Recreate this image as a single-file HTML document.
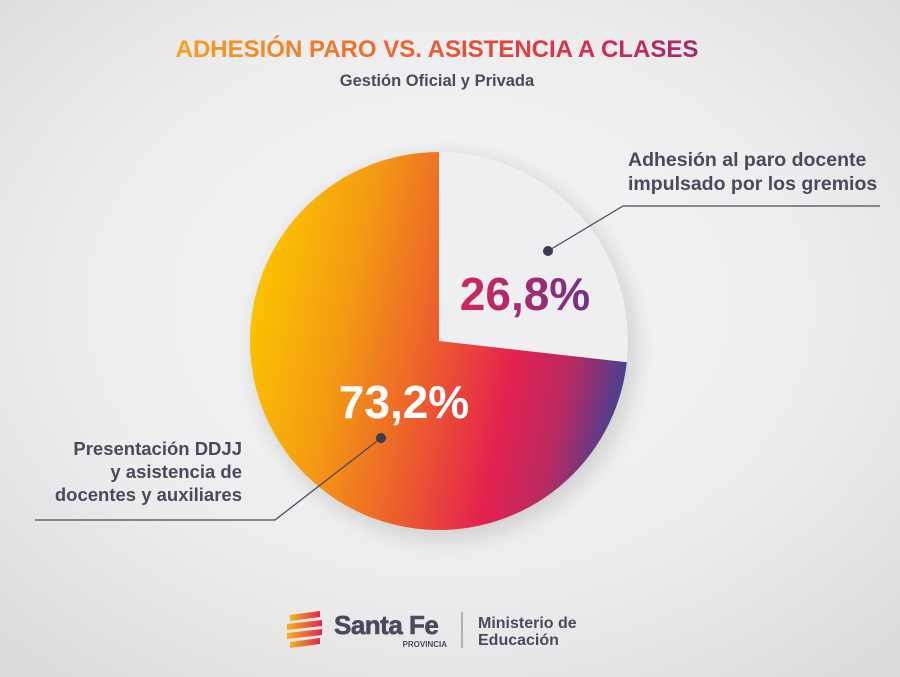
<!DOCTYPE html>
<html><head><meta charset="utf-8"><style>
html,body{margin:0;padding:0;}
body{width:900px;height:677px;overflow:hidden;background:#ececec;}
svg{display:block;font-family:"Liberation Sans",sans-serif;}
</style></head><body>
<svg width="900" height="677" viewBox="0 0 900 677">
<defs>
<radialGradient id="bg" cx="0.5" cy="0.45" r="0.7">
<stop offset="0" stop-color="#f6f6f7"/><stop offset="0.6" stop-color="#ededee"/><stop offset="1" stop-color="#dcdcdd"/>
</radialGradient>
<linearGradient id="tg" x1="176" y1="0" x2="697" y2="0" gradientUnits="userSpaceOnUse">
<stop offset="0" stop-color="#f4a21e"/><stop offset="0.5" stop-color="#ea5a34"/><stop offset="0.8" stop-color="#d9294e"/><stop offset="1" stop-color="#a02a6c"/>
</linearGradient>
<linearGradient id="pg" x1="250" y1="300" x2="628" y2="380" gradientUnits="userSpaceOnUse">
<stop offset="0" stop-color="#fbc400"/><stop offset="0.25" stop-color="#f39a12"/><stop offset="0.5" stop-color="#ec5a2e"/><stop offset="0.7" stop-color="#e4224f"/><stop offset="0.85" stop-color="#b82a62"/><stop offset="1" stop-color="#3f4294"/>
</linearGradient>
<linearGradient id="ng" x1="458" y1="0" x2="592" y2="0" gradientUnits="userSpaceOnUse">
<stop offset="0" stop-color="#d8245a"/><stop offset="1" stop-color="#6e3388"/>
</linearGradient>
<linearGradient id="lg" x1="0" y1="0" x2="1" y2="0">
<stop offset="0" stop-color="#f7b21a"/><stop offset="1" stop-color="#e2244f"/>
</linearGradient>
<filter id="sh" x="-30%" y="-30%" width="160%" height="160%"><feGaussianBlur stdDeviation="10"/></filter>
</defs>
<rect width="900" height="677" fill="url(#bg)"/>
<text x="437" y="57" text-anchor="middle" font-size="24" font-weight="bold" fill="url(#tg)">ADHESIÓN PARO VS. ASISTENCIA A CLASES</text>
<text x="437" y="86" text-anchor="middle" font-size="16.5" font-weight="bold" fill="#4a4a5c">Gestión Oficial y Privada</text>
<circle cx="445" cy="348" r="192" fill="#000" opacity="0.12" filter="url(#sh)"/>
<path d="M439,341 L439,152 A189,189 0 0 1 626.8,362.3 Z" fill="#efeff2"/>
<path d="M439,341 L626.8,362.3 A189,189 0 1 1 439,152 Z" fill="url(#pg)"/>
<text x="525" y="310" text-anchor="middle" font-size="46" font-weight="bold" fill="url(#ng)">26,8%</text>
<text x="404" y="418" text-anchor="middle" font-size="46" font-weight="bold" fill="#ffffff">73,2%</text>
<polyline points="548,251 623,206 880,206" fill="none" stroke="#4a4a5c" stroke-width="1.3"/>
<circle cx="548" cy="251" r="5" fill="#3a3a52"/>
<polyline points="381,438 275,520 35,520" fill="none" stroke="#4a4a5c" stroke-width="1.3"/>
<circle cx="381" cy="438" r="5" fill="#3a3a52"/>
<g font-weight="bold" fill="#4a4a5c">
<text x="628" y="166" font-size="19.5">Adhesión al paro docente</text>
<text x="628" y="190" font-size="19.5">impulsado por los gremios</text>
<text x="242" y="455" text-anchor="end" font-size="18.5">Presentación DDJJ</text>
<text x="242" y="478" text-anchor="end" font-size="18.5">y asistencia de</text>
<text x="242" y="501" text-anchor="end" font-size="18.5">docentes y auxiliares</text>
</g>
<g fill="url(#lg)">
<polygon points="290,615 320,611 320,617 290,621"/>
<polygon points="287,624 322,620 322,626 287,630"/>
<polygon points="287,633 322,629 322,635 287,639"/>
<polygon points="290,642 320,638 320,644 290,648"/>
</g>
<text x="334" y="634" font-size="26" font-weight="bold" fill="#4a4a5c" stroke="#4a4a5c" stroke-width="0.6" letter-spacing="-0.5">Santa Fe</text>
<text x="447" y="647" text-anchor="end" font-size="8" font-weight="bold" fill="#4a4a5c">PROVINCIA</text>
<line x1="462" y1="612" x2="462" y2="648" stroke="#8a8a96" stroke-width="1.2"/>
<text x="478" y="628" font-size="16" font-weight="bold" fill="#4a4a5c">Ministerio de</text>
<text x="478" y="645" font-size="16" font-weight="bold" fill="#4a4a5c">Educación</text>
</svg>
</body></html>
